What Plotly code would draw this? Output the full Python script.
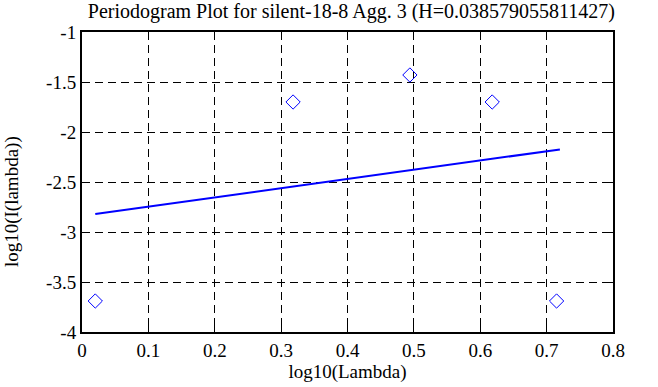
import plotly.graph_objects as go

# Data
log_lambda = [0.020, 0.318, 0.494, 0.618, 0.715]
log_periodogram = [-3.69, -1.70, -1.43, -1.70, -3.69]
fit_x = [0.020, 0.720]
fit_y = [-2.82, -2.174]

title_text = "Periodogram Plot for silent-18-8 Agg. 3 (H=0.038579055811427)"
x_ticks = [0, 0.1, 0.2, 0.3, 0.4, 0.5, 0.6, 0.7, 0.8]
x_tick_text = ["0", "0.1", "0.2", "0.3", "0.4", "0.5", "0.6", "0.7", "0.8"]
y_ticks = [-4, -3.5, -3, -2.5, -2, -1.5, -1]
y_tick_text = ["-4", "-3.5", "-3", "-2.5", "-2", "-1.5", "-1"]
x_label = "log10(Lambda)"
y_label = "log10(I(lambda))"

font_family = "Liberation Serif, Times New Roman, serif"
fs = 19

fig = go.Figure()
fig.add_trace(go.Scatter(
    x=log_lambda, y=log_periodogram, mode="markers",
    marker=dict(symbol="diamond-open", size=11, color="#0000ff",
                line=dict(width=1, color="#0000ff")),
    showlegend=False, hoverinfo="skip"))
fig.add_trace(go.Scatter(
    x=fit_x, y=fit_y, mode="lines",
    line=dict(color="#0000ff", width=2),
    showlegend=False, hoverinfo="skip"))

axis_common = dict(
    showline=True, linecolor="black", linewidth=2, mirror="ticks",
    ticks="inside", ticklen=8, tickwidth=1, tickcolor="black",
    showgrid=True, gridcolor="black", gridwidth=1, griddash="8px,5px",
    zeroline=False, automargin=False,
    tickfont=dict(family=font_family, size=fs, color="black"),
)

fig.update_layout(
    width=658, height=387,
    margin=dict(l=82, r=45, t=32, b=55, autoexpand=False),
    paper_bgcolor="white", plot_bgcolor="white",
    font=dict(family=font_family, color="black", size=fs),
    title=dict(text=title_text, x=0.534, xanchor="center", y=0.99, yanchor="top",
               automargin=False,
               font=dict(family=font_family, size=20, color="black")),
    xaxis=dict(range=[0, 0.8], tickvals=x_ticks, ticktext=x_tick_text,
               title=dict(text=x_label, standoff=2,
                          font=dict(family=font_family, size=fs)),
               **axis_common),
    yaxis=dict(range=[-4, -1], tickvals=y_ticks, ticktext=y_tick_text,
               **axis_common),
    annotations=[dict(text=y_label, xref="paper", yref="paper",
                      x=-0.1318, y=0.433, xanchor="center", yanchor="middle",
                      textangle=-90, showarrow=False,
                      font=dict(family=font_family, size=fs, color="black"))],
)

fig.write_html("out.html", config={"displayModeBar": False},
               post_script="document.body.style.margin='0';")
